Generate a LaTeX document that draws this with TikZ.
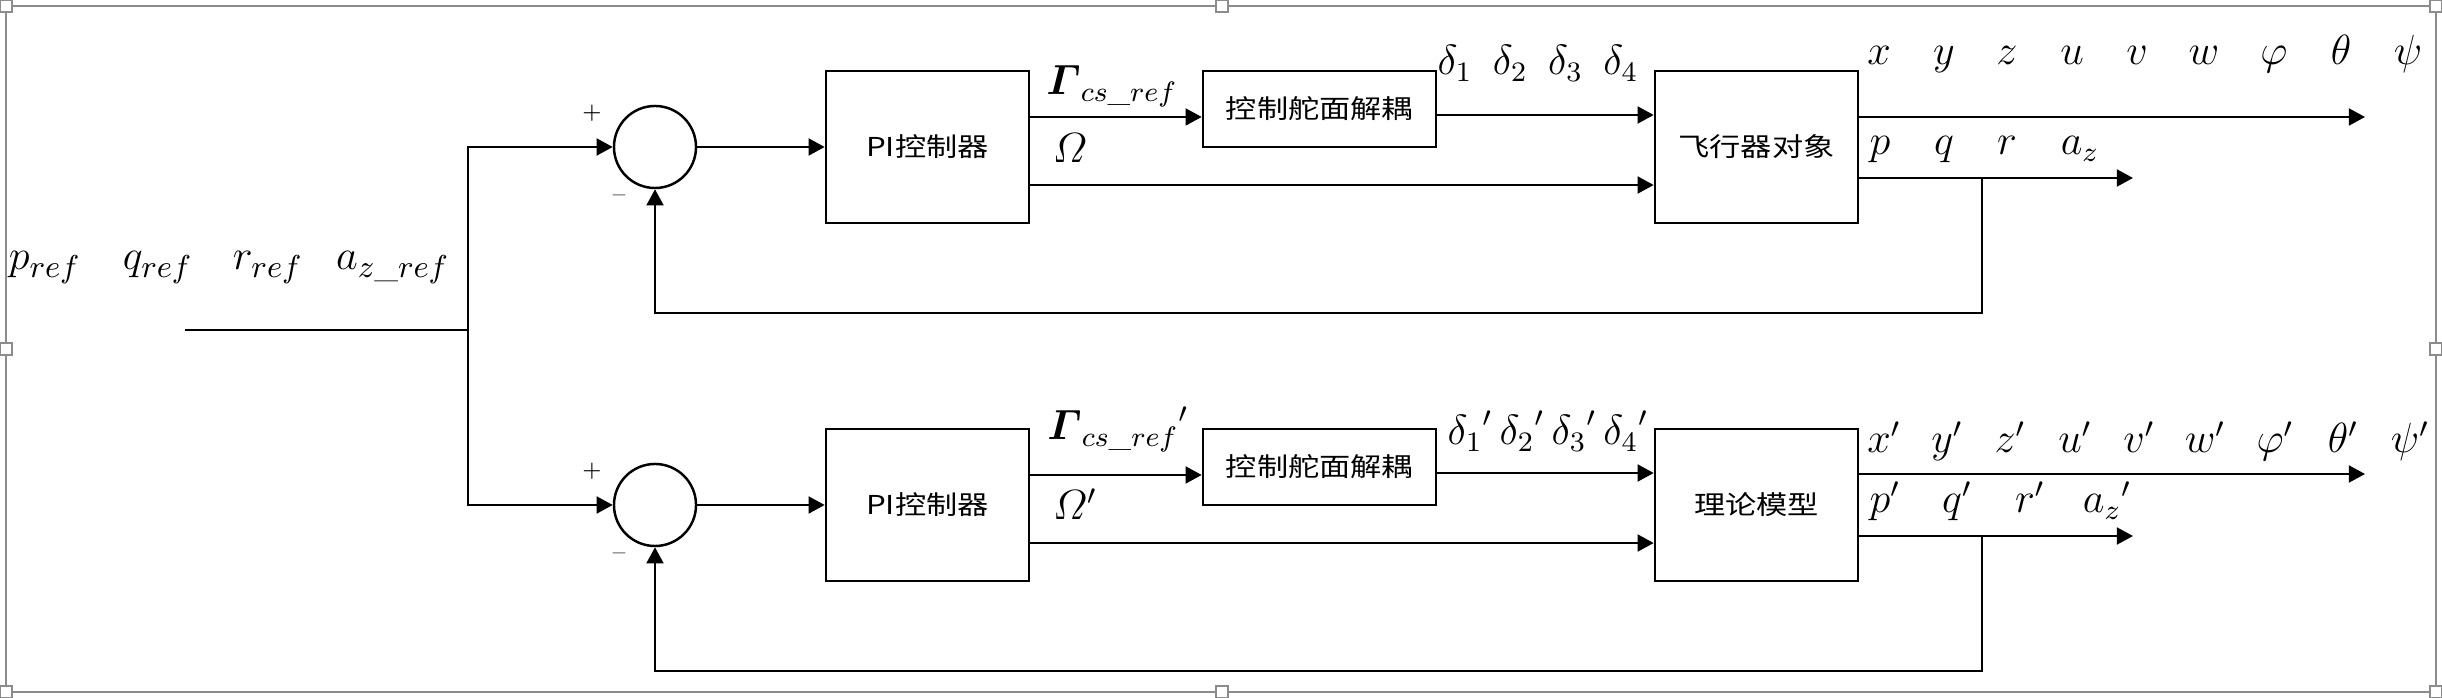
\documentclass[tikz,border=0pt]{standalone}
\usepackage{amsmath}
\usepackage{amssymb}
\usepackage{fontspec}
\newfontfamily\cjk[FakeStretch=1.2]{Noto Sans CJK SC}
\usetikzlibrary{arrows.meta,positioning}

\begin{document}
\begin{tikzpicture}[x=0.01cm,y=-0.01cm,line width=0.7pt,
    >={Triangle[length=4.6pt,width=4.8pt]},
    blk/.style={draw, rectangle, inner sep=0pt, font=\cjk\fontsize{7.4}{9}\selectfont},
    sumc/.style={draw, circle, minimum size=0.82cm, inner sep=0pt},
    lbl/.style={anchor=base, inner sep=0pt, font=\fontsize{11.5}{13}\selectfont},
    sgn/.style={inner sep=0pt, font=\fontsize{6.5}{8}\selectfont},
    frm/.style={draw=black!45, line width=0.45pt}]
        \useasboundingbox (0,0) rectangle (2442,698);
        % canvas frame
        \draw[frm] (6,6) rectangle (2436,692);
        \foreach \hx/\hy in {6/6,1222/6,2436/6,6/349,2436/349,6/692,1222/692,2436/692}
            \draw[frm, fill=white] (\hx-6,\hy-6) rectangle (\hx+6,\hy+6);

        % reference inputs
        \foreach \sym/\xx [count=\i] in {p_{ref}/45,q_{ref}/158,r_{ref}/268,a_{z\_ref}/393}
            \node[lbl, font=\fontsize{12.5}{14}\selectfont] (in\i) at (\xx,270) {$\sym$};
        \coordinate (src) at (185,330);
        \coordinate (br) at (468,330);
        \draw (src) -- (br);

        % upper loop
        \node[sumc] (c1) at (655,147) {};
        \node[sgn] (pl1s) at (592,113) {$+$};
        \node[sgn] (mi1s) at (619,198) {--};
        \node[blk, minimum width=2.03cm, minimum height=1.52cm] (pi1) at (927.5,147) {PI控制器};
        \node[blk, minimum width=2.33cm, minimum height=0.76cm] (dec1) at (1319.5,109) {控制舵面解耦};
        \node[blk, minimum width=2.03cm, minimum height=1.52cm] (pl1) at (1756.5,147) {飞行器对象};

        \draw[->] (br) |- (c1.west);
        \draw[->] (c1) -- (pi1);
        \draw[->] ([yshift=0.3cm]pi1.east) -- ([yshift=0.3cm]pi1.east -| dec1.west);
        \draw[->] ([yshift=-0.38cm]pi1.east) -- ([yshift=-0.38cm]pi1.east -| pl1.west);
        \draw[->] ([yshift=-0.06cm]dec1.east) -- ([yshift=-0.06cm]dec1.east -| pl1.west);
        \node[lbl] (g1) at (1112,95) {$\boldsymbol{\varGamma}_{cs\_ref}$};
        \node[lbl] (w1) at (1070,163) {$\varOmega$};
        \node[lbl] (d1) at (1538,75) {$\delta_1\enspace\delta_2\enspace\delta_3\enspace\delta_4$};

        \coordinate (o1) at (2365,117);
        \coordinate (o2) at (2133,178);
        \coordinate (t1) at (1982,178);
        \coordinate (f1) at (1982,313);
        \draw[->] (pl1.east |- o1) -- (o1);
        \draw[->] (pl1.east |- o2) -- (o2);
        \draw[->] (t1) -- (f1) -| (c1.south);
        \foreach \sym/\xx [count=\i] in {x/1879,y/1944,z/2007,u/2072,v/2137,w/2204,\varphi/2274,\theta/2341,\psi/2408}
            \node[lbl] (s\i) at (\xx,65) {$\sym$};
        \foreach \sym/\xx [count=\i] in {p/1880,q/1944,r/2007,a_z/2080}
            \node[lbl] (m\i) at (\xx,155) {$\sym$};

        % lower loop
        \node[sumc] (c2) at (655,505) {};
        \node[sgn] (pl2s) at (592,471) {$+$};
        \node[sgn] (mi2s) at (619,556) {--};
        \node[blk, minimum width=2.03cm, minimum height=1.52cm] (pi2) at (927.5,505) {PI控制器};
        \node[blk, minimum width=2.33cm, minimum height=0.76cm] (dec2) at (1319.5,467) {控制舵面解耦};
        \node[blk, minimum width=2.03cm, minimum height=1.52cm] (pl2) at (1756.5,505) {理论模型};

        \draw[->] (br) |- (c2.west);
        \draw[->] (c2) -- (pi2);
        \draw[->] ([yshift=0.3cm]pi2.east) -- ([yshift=0.3cm]pi2.east -| dec2.west);
        \draw[->] ([yshift=-0.38cm]pi2.east) -- ([yshift=-0.38cm]pi2.east -| pl2.west);
        \draw[->] ([yshift=-0.06cm]dec2.east) -- ([yshift=-0.06cm]dec2.east -| pl2.west);
        \node[lbl] (g2) at (1118,440) {${\boldsymbol{\varGamma}_{cs\_ref}}'$};
        \node[lbl] (w2) at (1075,520) {$\varOmega'$};
        \node[lbl] (d2) at (1548,445) {${\delta_1}'\,{\delta_2}'\,{\delta_3}'\,{\delta_4}'$};

        \coordinate (o3) at (2365,474);
        \coordinate (o4) at (2133,536);
        \coordinate (t2) at (1982,536);
        \coordinate (f2) at (1982,671);
        \draw[->] (pl2.east |- o3) -- (o3);
        \draw[->] (pl2.east |- o4) -- (o4);
        \draw[->] (t2) -- (f2) -| (c2.south);
        \foreach \sym/\xx [count=\i] in {x'/1884,y'/1947,z'/2010,u'/2075,v'/2139,w'/2205,\varphi'/2275,\theta'/2343,\psi'/2410}
            \node[lbl] (n\i) at (\xx,453) {$\sym$};
        \foreach \sym/\xx [count=\i] in {p'/1885,q'/1957,r'/2030,{a_z}'/2107}
            \node[lbl] (k\i) at (\xx,513) {$\sym$};
\end{tikzpicture}
\end{document}
